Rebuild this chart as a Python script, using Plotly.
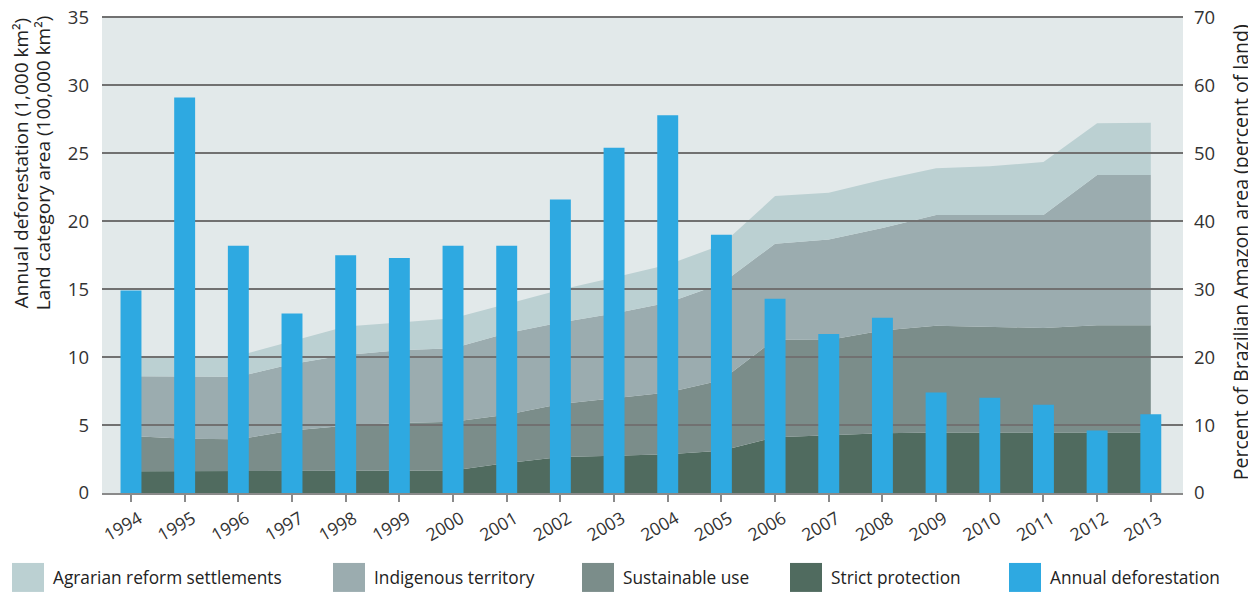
import plotly.graph_objects as go

# ---------------- data ----------------
years = list(range(1994, 2014))
year_labels = [str(y) for y in years]

# Annual deforestation (1,000 km²)
deforestation = [14.9, 29.1, 18.2, 13.2, 17.5, 17.3, 18.2, 18.2, 21.6, 25.4,
                 27.8, 19.0, 14.3, 11.7, 12.9, 7.4, 7.0, 6.5, 4.6, 5.8]

# Land categories (percent of Brazilian Amazon area), stacked bottom -> top
strict_protection = [3.2, 3.2, 3.2, 3.2, 3.2, 3.2, 3.3, 4.4, 5.3, 5.5,
                     5.7, 6.2, 8.2, 8.5, 8.8, 8.9, 8.9, 8.9, 8.9, 8.9]
sustainable_use = [5.2, 4.8, 4.7, 6.0, 6.7, 7.1, 7.2, 7.1, 7.8, 8.4,
                   9.1, 10.4, 14.4, 14.0, 15.1, 15.7, 15.6, 15.4, 15.8, 15.8]
indigenous_territory = [8.8, 9.1, 9.2, 9.8, 10.4, 10.7, 10.8, 12.0, 12.0, 12.5,
                        13.2, 14.2, 14.1, 14.8, 15.1, 16.3, 16.4, 16.6, 22.1, 22.1]
agrarian_reform = [2.8, 2.9, 3.1, 3.3, 4.2, 4.1, 4.4, 4.3, 4.8, 5.3,
                   5.6, 5.7, 7.0, 6.9, 7.1, 6.9, 7.2, 7.8, 7.6, 7.7]

left_ticks = [0, 5, 10, 15, 20, 25, 30, 35]
right_ticks = [0, 10, 20, 30, 40, 50, 60, 70]

left_title_lines = ["Annual deforestation (1,000 km²)",
                    "Land category area (100,000 km²)"]
right_title = "Percent of Brazilian Amazon area (percent of land)"

# ---------------- styling ----------------
OFF = 8                       # page body margin of the html page
LEFT_MAX, RIGHT_MAX = 35, 70  # visible scale tops
HEAD = 0.1                    # small headroom so the top gridline is kept
PX_PER_UNIT = 476 / LEFT_MAX  # reference: 35 units = 476 px
W, H = 1256 - OFF, 592 - OFF
ML, MR, MB = 102 - OFF, 73, 99
PH = (LEFT_MAX + HEAD) * PX_PER_UNIT
MT = H - MB - PH
PW = W - ML - MR
FONT = "Open Sans"
TXT = "#333333"
TITLE = "#222222"
BG = "#e2e9ea"
GRID = "#717171"

def px(x):
    """reference-picture x pixel -> paper coordinate"""
    return (x - OFF - ML) / PW

def py(y):
    """reference-picture y pixel -> paper coordinate"""
    return (H - MB - (y - OFF)) / PH

area_series = [
    ("Strict protection", strict_protection, "#506b5f"),
    ("Sustainable use", sustainable_use, "#7b8d8a"),
    ("Indigenous territory", indigenous_territory, "#9bacaf"),
    ("Agrarian reform settlements", agrarian_reform, "#bbd0d2"),
]
bar_color = "#2ea9e1"

fig = go.Figure()

for name, vals, col in area_series:
    fig.add_trace(go.Scatter(
        x=years, y=vals, name=name, mode="lines", stackgroup="land",
        line=dict(width=0, color=col), fillcolor=col,
        xaxis="x", yaxis="y", showlegend=False,
    ))

fig.add_trace(go.Bar(
    x=years, y=deforestation, name="Annual deforestation",
    marker=dict(color=bar_color, line=dict(width=0)), width=0.39,
    xaxis="x2", yaxis="y2", showlegend=False,
))

xrange = [1993.46, 2013.6]
tickfont = dict(family=FONT, size=18.5, color=TXT)

fig.update_layout(
    width=W, height=H,
    margin=dict(l=ML, r=MR, t=MT, b=MB, pad=0, autoexpand=False),
    paper_bgcolor="white",
    plot_bgcolor="rgba(0,0,0,0)",
    font=dict(family=FONT, color=TXT),
    showlegend=False,
    xaxis=dict(domain=[0, 1], range=xrange, visible=False, anchor="y",
               automargin=False),
    yaxis=dict(domain=[0, 1], range=[0, RIGHT_MAX * (1 + HEAD / LEFT_MAX)],
               side="right", anchor="x",
               tickvals=right_ticks, showgrid=False, zeroline=False,
               showline=False, ticks="", ticklabelstandoff=10,
               ticklabeloverflow="allow", tickfont=tickfont, automargin=False),
    xaxis2=dict(domain=[0, 1], range=xrange, anchor="y2",
                tickvals=years, ticktext=year_labels, tickangle=-30,
                ticks="outside", ticklen=7, tickwidth=1.5, tickcolor="#8a8a8a",
                showline=True, linecolor="#8a8a8a", linewidth=2,
                showgrid=False, zeroline=False, automargin=False,
                ticklabelshift=8, ticklabeloverflow="allow",
                tickfont=dict(family=FONT, size=17.5, color=TXT)),
    yaxis2=dict(domain=[0, 1], range=[0, LEFT_MAX + HEAD], anchor="x2",
                side="left",
                tickvals=left_ticks, showgrid=True, gridcolor=GRID,
                gridwidth=1.8, zeroline=False, showline=False, ticks="",
                ticklabelstandoff=12, ticklabeloverflow="allow",
                tickfont=tickfont, automargin=False),
    shapes=[dict(type="rect", xref="paper", yref="y", x0=0, x1=1,
                 y0=0, y1=RIGHT_MAX, fillcolor=BG, line=dict(width=0),
                 layer="below")],
)

annotations = []
for line, xc in zip(left_title_lines, [21, 43]):
    annotations.append(dict(
        text=line, xref="paper", yref="paper", x=px(xc), y=py(163),
        textangle=-90, xanchor="center", yanchor="middle", showarrow=False,
        font=dict(family=FONT, size=19, color=TITLE)))
annotations.append(dict(
    text=right_title, xref="paper", yref="paper", x=px(1240), y=py(252),
    textangle=-90, xanchor="center", yanchor="middle", showarrow=False,
    font=dict(family=FONT, size=19.5, color=TITLE)))

legend_items = [
    ("Agrarian reform settlements", "#bbd0d2", 12),
    ("Indigenous territory", "#9bacaf", 333),
    ("Sustainable use", "#7b8d8a", 582),
    ("Strict protection", "#506b5f", 790),
    ("Annual deforestation", bar_color, 1009),
]
for label, col, x0 in legend_items:
    fig.add_shape(type="rect", xref="paper", yref="paper",
                  x0=px(x0), x1=px(x0 + 32), y0=py(592), y1=py(563),
                  fillcolor=col, line=dict(width=0))
    annotations.append(dict(text=label, xref="paper", yref="paper",
                            x=px(x0 + 39), y=py(578), xanchor="left",
                            yanchor="middle", showarrow=False,
                            font=dict(family=FONT, size=17.3, color=TITLE)))

fig.update_layout(annotations=annotations)

fig.write_html("out.html")
